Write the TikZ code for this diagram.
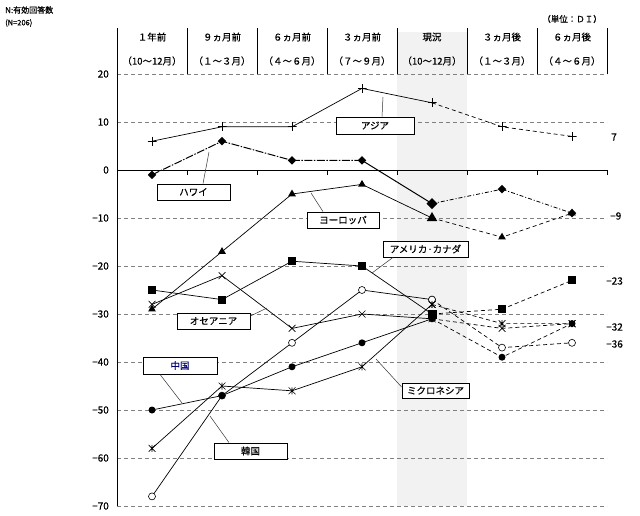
\documentclass[tikz,border=0pt]{standalone}
\usepackage{fontspec}
\setmainfont{Noto Sans CJK JP}[UprightFeatures={FakeBold=0.5}]
\usetikzlibrary{shapes.geometric}
\definecolor{gridgray}{RGB}{128,128,128}
\definecolor{curshade}{RGB}{242,242,242}
\definecolor{navy}{RGB}{0,0,110}
\begin{document}
\begin{tikzpicture}[x=1pt,y=-1pt,
  every node/.style={font=\fontsize{9.5}{11}\selectfont, inner sep=0pt},
  gridline/.style={draw=gridgray, dash pattern=on 4pt off 3pt, line width=0.6pt},
  axisline/.style={line width=0.8pt},
  ser/.style={line width=0.7pt},
  fut/.style={line width=0.7pt, dash pattern=on 4pt off 3pt},
  hawpast/.style={line width=1pt, dash pattern=on 8pt off 1.5pt on 1.5pt off 1.5pt},
  hawfut/.style={line width=0.8pt, dash pattern=on 4pt off 2pt on 1pt off 2pt},
  leader/.style={line width=0.5pt, draw=black!80},
  lbl/.style={draw, fill=white, line width=0.8pt, minimum width=#1, minimum height=16pt},
  mk/.style={inner sep=0pt, outer sep=0pt},
  mdia/.style={mk, diamond, fill=black, minimum size=#1},
  mtri/.style={mk, regular polygon, regular polygon sides=3, fill=black, minimum size=#1},
  msq/.style={mk, rectangle, fill=black, minimum size=#1},
  mdot/.style={mk, circle, fill=black, minimum size=7pt},
  mring/.style={mk, circle, draw, fill=white, minimum size=7pt, line width=0.6pt},
  mplus/.style={mk, rectangle, minimum size=9pt, path picture={\draw[line width=0.7pt] (path picture bounding box.north) -- (path picture bounding box.south) (path picture bounding box.west) -- (path picture bounding box.east);}},
  mx/.style={mk, rectangle, minimum size=7pt, path picture={\draw[line width=0.6pt] (path picture bounding box.north west) -- (path picture bounding box.south east) (path picture bounding box.south west) -- (path picture bounding box.north east);}},
  mast/.style={mk, rectangle, minimum size=7pt, path picture={\draw[line width=0.6pt] (path picture bounding box.north west) -- (path picture bounding box.south east) (path picture bounding box.south west) -- (path picture bounding box.north east) (path picture bounding box.north) -- (path picture bounding box.south);}},
]
\useasboundingbox (0,0) rectangle (640,515);
% shaded current column
\fill[curshade] (397,32) rectangle (467,506);
% grid
\foreach \v in {20,10,-10,-20,-30,-40,-50,-60,-70}{
  \draw[gridline] (117,{170-4.8*\v}) -- (607,{170-4.8*\v});
}
% axes
\draw[axisline] (117,28) -- (117,506);
\draw[axisline] (117,170) -- (607,170);
\foreach \x in {187,257,327,397,467,537,607}{
  \draw[axisline] (\x,28) -- (\x,74);
  \draw[axisline] (\x,170) -- (\x,175);
}
% y labels
\foreach \v/\t in {20/20,10/10,0/0,-10/−10,-20/−20,-30/−30,-40/−40,-50/−50,-60/−60,-70/−70}{
  \node[anchor=east, font=\fontsize{10}{12}\selectfont] (yl\v) at (109,{170-4.8*\v}) {\t};
}
% header
\node (h1a) at (152,37) {１年前};      \node (h1b) at (152,61) {（10～12月）};
\node (h2a) at (222,37) {９ヵ月前};    \node (h2b) at (222,61) {（１～３月）};
\node (h3a) at (292,37) {６ヵ月前};    \node (h3b) at (292,61) {（４～６月）};
\node (h4a) at (362,37) {３ヵ月前};    \node (h4b) at (362,61) {（７～９月）};
\node (h5a) at (432,37) {現況};        \node (h5b) at (432,61) {（10～12月）};
\node (h6a) at (502,37) {３ヵ月後};    \node (h6b) at (502,61) {（１～３月）};
\node (h7a) at (572,37) {６ヵ月後};    \node (h7b) at (572,61) {（４～６月）};
\node[anchor=west, font=\fontsize{8}{9}\selectfont] (nlab) at (5,10) {N:有効回答数};
\node[anchor=west, font=\fontsize{7.5}{9}\selectfont] (nval) at (5,23) {(N=206)};
\node[anchor=east, font=\fontsize{8.5}{10}\selectfont] (unit) at (602,19) {（単位：ＤＩ）};
% data coordinates
\begin{scope}[shift={(0,170)}, y=4.8pt]
\foreach \s/\a/\b/\c/\d/\e/\f/\g in {
  as/6/9/9/17/14/9/7,
  hw/-1/6/2/2/-7/-4/-9,
  eu/-29/-17/-5/-3/-10/-14/-9,
  am/-25/-27/-19/-20/-30/-29/-23,
  oc/-28/-22/-33/-30/-31/-33/-32,
  kr/-68/-47/-36/-25/-27/-37/-36,
  cn/-50/-47/-41/-36/-31/-39/-32,
  mi/-58/-45/-46/-41/-28/-32/-32}{
  \coordinate (\s1) at (152,\a);
  \coordinate (\s2) at (222,\b);
  \coordinate (\s3) at (292,\c);
  \coordinate (\s4) at (362,\d);
  \coordinate (\s5) at (432,\e);
  \coordinate (\s6) at (502,\f);
  \coordinate (\s7) at (572,\g);
}
\end{scope}
% series lines
\foreach \s in {as,eu,am,oc,kr,cn,mi}{
  \draw[ser] (\s1) -- (\s2) -- (\s3) -- (\s4) -- (\s5);
  \draw[fut] (\s5) -- (\s6) -- (\s7);
}
\draw[hawpast] (hw1) -- (hw2) -- (hw3) -- (hw4);
\draw[line width=1pt] (hw4) -- (hw5);
\draw[hawfut] (hw5) -- (hw6) -- (hw7);
% markers
\foreach \i in {1,...,7}{
  \node[mplus] (mas\i) at (as\i) {};
  \node[mring] (mkr\i) at (kr\i) {};
  \node[mx] (moc\i) at (oc\i) {};
  \node[mast] (mmi\i) at (mi\i) {};
  \node[mdot] (mcn\i) at (cn\i) {};
}
\foreach \i in {1,2,3,4,6,7}{
  \node[mdia=8.5pt] (mhw\i) at (hw\i) {};
  \node[mtri=9pt] (meu\i) at (eu\i) {};
  \node[msq=8pt] (mam\i) at (am\i) {};
}
\node[mdia=11pt] (mhw5) at (hw5) {};
\node[mtri=12pt] (meu5) at (eu5) {};
\node[msq=9pt] (mam5) at (am5) {};
\node[mring] (mkr5b) at (kr5) {};
\node[mast] (mmi5b) at (mi5) {};
% right values
\node[anchor=west, font=\fontsize{10}{12}\selectfont] (r1) at (611,137) {7};
\node[anchor=west, font=\fontsize{10}{12}\selectfont] (r2) at (610,216) {−9};
\node[anchor=west, font=\fontsize{10}{12}\selectfont] (r3) at (606,281) {−23};
\node[anchor=west, font=\fontsize{10}{12}\selectfont] (r4) at (606,327) {−32};
\node[anchor=west, font=\fontsize{10}{12}\selectfont] (r5) at (606,344) {−36};
% label boxes and leaders
\node[lbl=78pt, minimum height=17pt] (bas) at (375,125.5) {アジア};
\coordinate (pas) at (383,97);
\draw[leader] (bas.north -| 382,0) -- (pas);
\node[lbl=73pt] (bhw) at (193.5,192) {ハワイ};
\coordinate (phw) at (209,152);
\draw[leader] (bhw.north -| 203,0) -- (phw);
\node[lbl=72pt] (beu) at (343,220) {ヨーロッパ};
\coordinate (peu) at (311,193);
\draw[leader] (beu.north -| 323,0) -- (peu);
\node[lbl=85pt] (bam) at (425.5,249) {アメリカ·カナダ};
\coordinate (pam) at (372,273);
\draw[leader] (bam.south -| 393,0) -- (pam);
\node[lbl=73pt] (boc) at (213.5,321) {オセアニア};
\coordinate (poc) at (267,308);
\draw[leader] (boc.east |- 0,316) -- (poc);
\node[lbl=74pt, minimum height=17pt, text=navy] (bcn) at (180,365.5) {中国};
\coordinate (pcn) at (182,403);
\draw[leader] (bcn.south -| 160,0) -- (pcn);
\node[lbl=73pt] (bkr) at (250.5,451) {韓国};
\coordinate (pkr) at (210,416);
\draw[leader] (bkr.north -| 229,0) -- (pkr);
\node[lbl=67pt, minimum height=15pt] (bmi) at (435.5,390.5) {ミクロネシア};
\coordinate (pmi) at (376,359);
\draw[leader] (bmi.west |- 0,387) -- (pmi);
\end{tikzpicture}
\end{document}
